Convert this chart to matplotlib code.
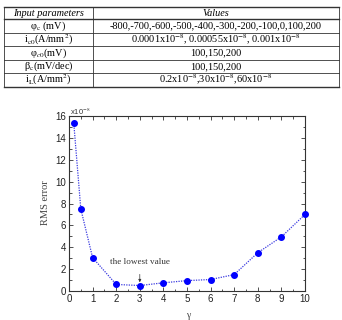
import matplotlib
matplotlib.use("Agg")
import matplotlib.pyplot as plt
from matplotlib.lines import Line2D

plt.rcParams['mathtext.fontset'] = 'stix'

# ---- data ----
table_header = ["Input parameters", "Values"]
param_names = [r"φ$_\mathrm{c}$ (mV)", r"i$_\mathrm{c0}$(A/mm$^\mathrm{2}$)", r"φ$_{\mathit{c0}}$(mV)",
               r"β$_\mathrm{c}$(mV/dec)", r"i$_\mathrm{L}$(A/mm$^\mathrm{2}$)"]
param_values = ["-800,-700,-600,-500,-400,-300,-200,-100,0,100,200",
                r"0.0001x10$^\mathrm{-8}$, 0.00055x10$^\mathrm{-8}$, 0.001x10$^\mathrm{-8}$",
                "100,150,200",
                "100,150,200",
                r"0.2x10$^\mathrm{-8}$,30x10$^\mathrm{-8}$,60x10$^\mathrm{-8}$"]

gamma = [0.2, 0.5, 1, 2, 3, 4, 5, 6, 7, 8, 9, 10]
rms_e8 = [15.4, 7.5, 3.05, 0.6, 0.5, 0.75, 0.95, 1.05, 1.5, 3.5, 4.95, 7.0]
x_ticks = [0, 1, 2, 3, 4, 5, 6, 7, 8, 9, 10]
y_ticks = [0, 2, 4, 6, 8, 10, 12, 14, 16]

W, H = 342, 320
fig = plt.figure(figsize=(W / 100, H / 100), dpi=100)

def fx(px):
    return px / W

def fy(py):
    return 1 - py / H

serif = 'Liberation Serif'

# ---- table ----
tl, tr, tdiv = 4, 339, 93
row_edges = [7, 19, 33, 46, 60, 73, 87]
for i, y in enumerate(row_edges):
    lw = 1.0 if i in (0, 1, len(row_edges) - 1) else 0.6
    fig.add_artist(Line2D([fx(tl), fx(tr)], [fy(y), fy(y)], color='#333333', lw=lw))
for x in (tl, tdiv, tr):
    fig.add_artist(Line2D([fx(x), fx(x)], [fy(row_edges[0]), fy(row_edges[-1])],
                          color='#333333', lw=0.6))
rows = [table_header] + [[n, v] for n, v in zip(param_names, param_values)]
for i, (a, b) in enumerate(rows):
    yc = (row_edges[i] + row_edges[i + 1]) / 2
    style = 'italic' if i == 0 else 'normal'
    fig.text(fx((tl + tdiv) / 2), fy(yc), a, ha='center', va='center',
             fontsize=7.4, family=serif, style=style)
    fig.text(fx((tdiv + tr) / 2), fy(yc), b, ha='center', va='center',
             fontsize=7.4, family=serif, style=style)

# ---- chart ----
ax = fig.add_axes([fx(69), fy(291), fx(305) - fx(69), fy(116) - fy(291)])
ax.plot(gamma, rms_e8, linestyle=(0, (1, 1)), color='#3a3ae0', lw=0.9,
        marker='o', markersize=4, markerfacecolor='#0000ff',
        markeredgecolor='#0000ff', clip_on=False, zorder=3)
ax.set_xlim(0, 10)
ax.set_ylim(0, 16)
ax.set_xticks(x_ticks)
ax.set_yticks(y_ticks)
ax.set_xticks([x + 0.5 for x in x_ticks[:-1]], minor=True)
ax.set_yticks([y + 1 for y in y_ticks[:-1]], minor=True)
ax.tick_params(which='both', direction='in', top=True, right=True,
               labelsize=7, colors='#333333', pad=2)
ax.tick_params(which='major', length=3, width=0.6)
ax.tick_params(which='minor', length=1.8, width=0.6)
for lab in ax.get_xticklabels() + ax.get_yticklabels():
    lab.set_family('Liberation Sans')
    lab.set_color('#222222')
for s in ax.spines.values():
    s.set_linewidth(0.8)
    s.set_color('#333333')

fig.text(fx(70), fy(111), r'x10$^\mathrm{-8}$', fontsize=5.5, family='Liberation Sans',
         color='#333333', ha='left', va='center')
fig.text(fx(45), fy(203), 'RMS error', rotation=90, fontsize=7.5, family=serif,
         color='#444444', ha='center', va='center')
fig.text(fx(188), fy(316), 'γ', fontsize=7, family=serif, color='#444444',
         ha='center', va='center')

ax.annotate('the lowest value', xy=(3.0, 0.8), xytext=(3.0, 2.65),
            fontsize=6.6, family=serif, color='#333333', ha='center', va='center',
            arrowprops=dict(arrowstyle='-|>', color='#333333', lw=0.5,
                            mutation_scale=4, shrinkA=4, shrinkB=0))

fig.savefig('out.png', dpi=100)
